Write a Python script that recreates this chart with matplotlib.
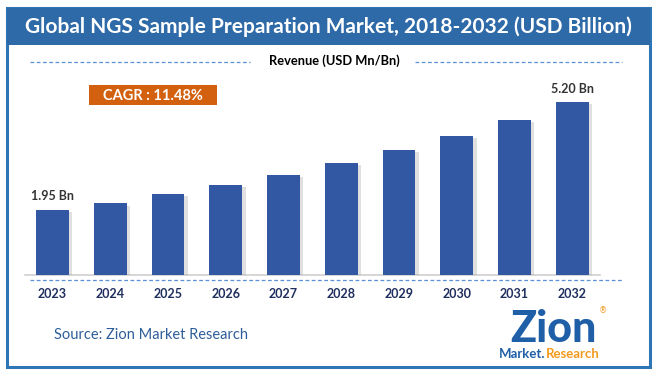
import matplotlib
matplotlib.use("Agg")
import matplotlib.pyplot as plt
from matplotlib.patches import Rectangle
import matplotlib.patheffects as pe

years = ["2023", "2024", "2025", "2026", "2027", "2028", "2029", "2030", "2031", "2032"]
values = [1.95, 2.15, 2.43, 2.70, 3.00, 3.37, 3.75, 4.18, 4.66, 5.20]
first_label = "1.95 Bn"
last_label = "5.20 Bn"
title = "Global NGS Sample Preparation Market, 2018-2032 (USD Billion)"
subtitle = "Revenue (USD Mn/Bn)"
cagr = "CAGR : 11.48%"
source = "Source: Zion Market Research"

W, H = 657, 375
fig = plt.figure(figsize=(W / 100, H / 100), dpi=100)
FONT = "Lato"

def fx(x):
    return x / W

def fy(y):
    return 1 - y / H

# outer border
fig.patches.append(Rectangle((fx(7), fy(367)), fx(643), (367 - 8) / H, transform=fig.transFigure,
                             fill=False, edgecolor="#2e75b6", linewidth=2.2))
# title band
fig.patches.append(Rectangle((fx(7), fy(45)), fx(643), 37 / H, transform=fig.transFigure,
                             facecolor="#2e6aa7", edgecolor="none"))
fig.text(fx(328), fy(27), title, ha="center", va="center", color="white",
         fontsize=15, fontfamily=FONT, fontweight="bold")

# subtitle with dashed lines
fig.text(fx(334), fy(61), subtitle, ha="center", va="center", color="black",
         fontsize=9.3, fontfamily=FONT, fontweight="bold")
fig.add_artist(plt.Line2D([fx(30), fx(250)], [fy(62), fy(62)], transform=fig.transFigure,
                          color="#5b8fd6", linewidth=0.9, linestyle=(0, (3, 2))))
fig.add_artist(plt.Line2D([fx(415), fx(622)], [fy(62), fy(62)], transform=fig.transFigure,
                          color="#5b8fd6", linewidth=0.9, linestyle=(0, (3, 2))))

# CAGR box
fig.patches.append(Rectangle((fx(89), fy(105)), fx(128), 20 / H, transform=fig.transFigure,
                             facecolor="#d2600f", edgecolor="none"))
fig.text(fx(153), fy(95.5), cagr, ha="center", va="center", color="white",
         fontsize=10.5, fontfamily=FONT, fontweight="bold")

# axes
ax = fig.add_axes([fx(25), fy(275), fx(600 - 25), (275 - 80) / H])
x = list(range(len(years)))
bars = ax.bar(x, values, width=0.57, color="#3257a3", zorder=3)
for b in bars:
    b.set_path_effects([pe.SimplePatchShadow(offset=(2.5, -1.5), shadow_rgbFace="#9a9a9a", alpha=0.3),
                        pe.Normal()])
ax.set_xlim(-0.476, 9.48)
ax.set_ylim(0, 5.20 * 195 / 173)
for s in ["top", "right", "left"]:
    ax.spines[s].set_visible(False)
ax.spines["bottom"].set_color("#d0d0d0")
ax.spines["bottom"].set_linewidth(1.2)
ax.set_yticks([])
ax.set_xticks(x)
ax.set_xticklabels(years, fontfamily=FONT, fontweight="bold", fontsize=9, color="#1f2f5e")
ax.tick_params(axis="x", length=0, pad=9)
ax.patch.set_alpha(0)

ax.annotate(first_label, (x[0], values[0]), xytext=(0, 6), textcoords="offset points",
            ha="center", va="bottom", fontsize=9, fontweight="bold", fontfamily=FONT, color="#333333")
ax.annotate(last_label, (x[-1], values[-1]), xytext=(0, 5), textcoords="offset points",
            ha="center", va="bottom", fontsize=9, fontweight="bold", fontfamily=FONT, color="#333333")

# dashed line under axis
fig.add_artist(plt.Line2D([fx(30), fx(622)], [fy(280), fy(280)], transform=fig.transFigure,
                          color="#5b8fd6", linewidth=0.9, linestyle=(0, (3, 2))))

# source
fig.text(fx(54), fy(335), source, ha="left", va="center", color="#2e5e99",
         fontsize=10.5, fontfamily=FONT)

# logo (text approximation)
fig.text(fx(553), fy(329), "Zion", ha="center", va="center", color="#1f5fa8",
         fontsize=31, fontfamily=FONT, fontweight="black")
fig.text(fx(545), fy(354), "Market.", ha="right", va="center", color="#1f5fa8",
         fontsize=9.5, fontfamily=FONT, fontweight="bold")
fig.text(fx(546), fy(354), "Research", ha="left", va="center", color="#f39a1e",
         fontsize=9.5, fontfamily=FONT, fontweight="bold")
fig.text(fx(603), fy(311), "®", ha="center", va="center", color="#f39a1e", fontsize=6, fontfamily="DejaVu Sans")

fig.savefig("out.png", dpi=100)
